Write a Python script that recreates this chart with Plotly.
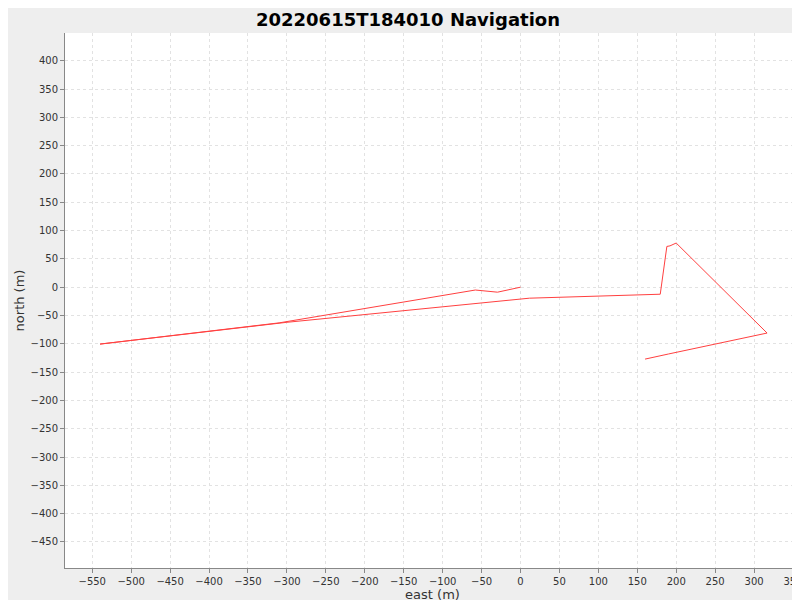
import plotly.graph_objects as go

# track, east/north in metres
east = [0, -29.5, -58, -310, -540, -300, 11.5, 179.5, 188, 192, 200, 316.7, 190, 160]
north = [0, -8.8, -5, -63, -100.5, -62, -19.4, -12.4, 72, 73, 78, -81, -118, -127]

fig = go.Figure(go.Scatter(x=east, y=north, mode='lines',
                           line=dict(color='#ff4040', width=1), showlegend=False))

axis = dict(showgrid=True, gridcolor='#e2e2e2', griddash='3px,3px', gridwidth=1,
            zeroline=False, showline=True, linecolor='#888888', mirror=False,
            ticks='outside', ticklen=4, tickcolor='#888888', automargin=False,
            tickfont=dict(size=10, color='#333333'))

fig.update_layout(
    width=800, height=600,
    paper_bgcolor='#eeeeee', plot_bgcolor='white',
    margin=dict(l=57, r=8, t=25, b=40),
    font=dict(family='DejaVu Sans', color='#333333'),
    title=dict(text='<b>20220615T184010 Navigation</b>', x=0.5, y=0.98,
               yref='container', xanchor='center', yanchor='middle',
               font=dict(size=18, color='black'), automargin=False),
    xaxis=dict(axis, range=[-585, 359], dtick=50,
               title=dict(text='east (m)', font=dict(size=13), standoff=2)),
    yaxis=dict(axis, range=[-496, 449], dtick=50,
               title=dict(text='north (m)', font=dict(size=13), standoff=2)),
)

fig.write_html("out.html")
